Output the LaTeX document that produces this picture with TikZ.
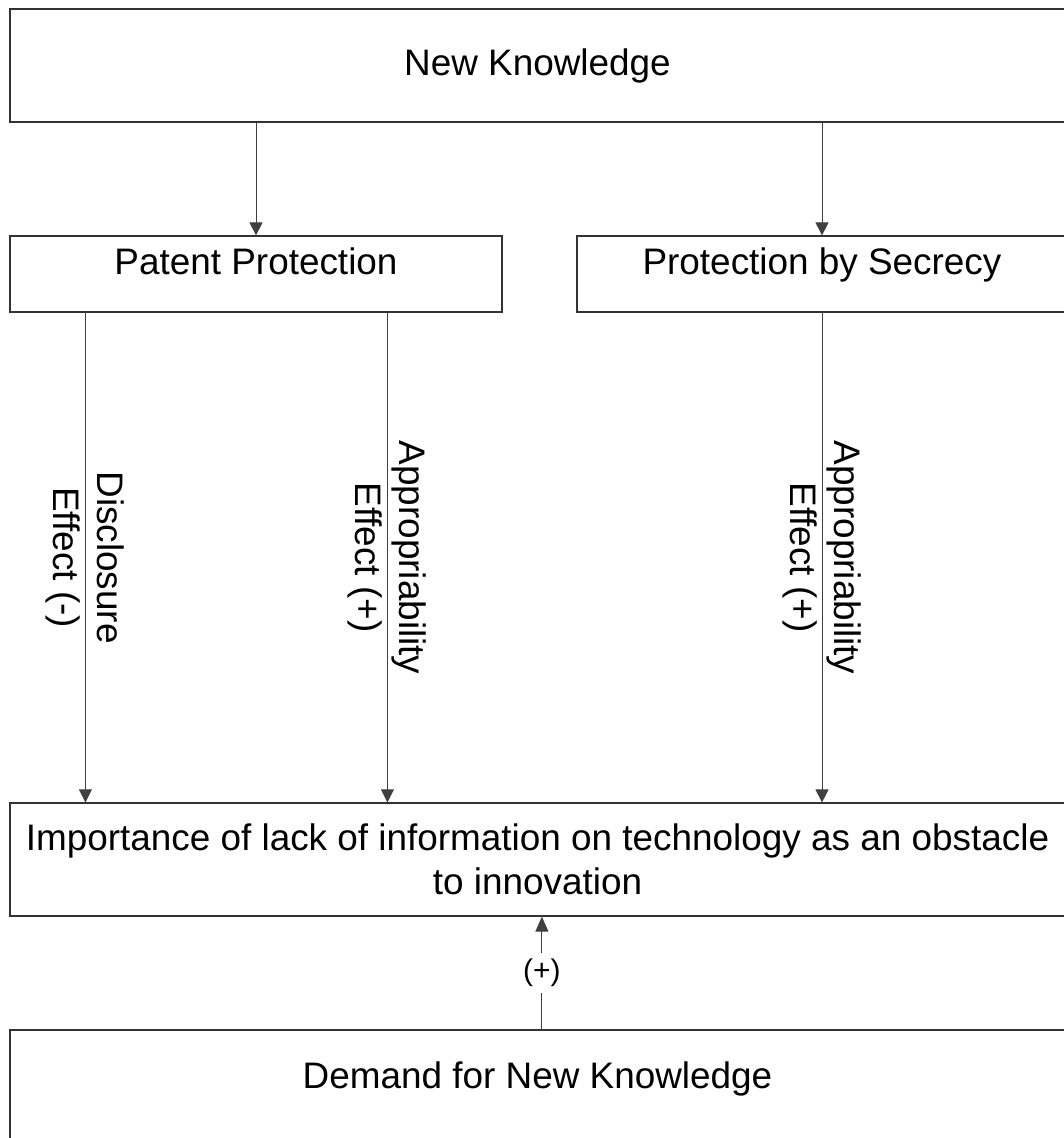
\documentclass[tikz,border=0pt]{standalone}
\usepackage{fontspec}
\setmainfont{Liberation Sans}
\usetikzlibrary{arrows.meta}
\tikzset{
  box/.style={draw=black!80, line width=0.7pt, inner sep=0pt, align=center,
    font=\fontsize{21}{25}\selectfont},
  high/.style={text height=0.4cm, text depth=0.36cm},
  arr/.style={draw=black!75, line width=0.5pt, -{Triangle[length=0.26cm,width=0.26cm]}},
  lbl/.style={rotate=-90, align=center, inner sep=0pt, font=\fontsize{21}{25}\selectfont},
}
\begin{document}
\begin{tikzpicture}[x=0.02cm,y=-0.02cm]
\useasboundingbox (0,0) rectangle (1063,1138);
% boxes
\node[box, minimum width=21.1cm, minimum height=2.26cm] (newknow) at (537.5,65.5) {New Knowledge};
\node[box, high, minimum width=9.84cm, minimum height=1.52cm] (patent) at (256,274) {Patent Protection};
\node[box, high, minimum width=9.8cm, minimum height=1.52cm] (secrecy) at (822,274) {Protection by Secrecy};
\node[box, minimum width=21.1cm, minimum height=2.26cm] (lack) at (537.5,859.5)
  {Importance of lack of information on technology as an obstacle\\to innovation};
\node[box, high, minimum width=21.1cm, minimum height=2.28cm] (demand) at (537.5,1087) {Demand for New Knowledge};
% free ends under patent box
\path (patent.south west) ++(76,0) coordinate (disc);
\path (patent.south west) ++(378,0) coordinate (appr);
% connectors
\draw[arr] (patent |- newknow.south) -- (patent.north);
\draw[arr] (secrecy |- newknow.south) -- (secrecy.north);
\draw[arr] (disc) -- node[lbl] {Disclosure\\Effect (-)} (disc |- lack.north);
\draw[arr] (appr) -- node[lbl] {Appropriability\\Effect (+)} (appr |- lack.north);
\draw[arr] (secrecy.south) -- node[lbl] {Appropriability\\Effect (+)} (secrecy |- lack.north);
\draw[arr, -{Triangle[length=0.3cm,width=0.26cm]}] ([xshift=2.5]demand.north) --
  node[fill=white, inner xsep=2pt, inner ysep=0.13cm, font=\fontsize{17}{20}\selectfont] {(+)}
  ([xshift=2.5]lack.south);
\end{tikzpicture}
\end{document}
